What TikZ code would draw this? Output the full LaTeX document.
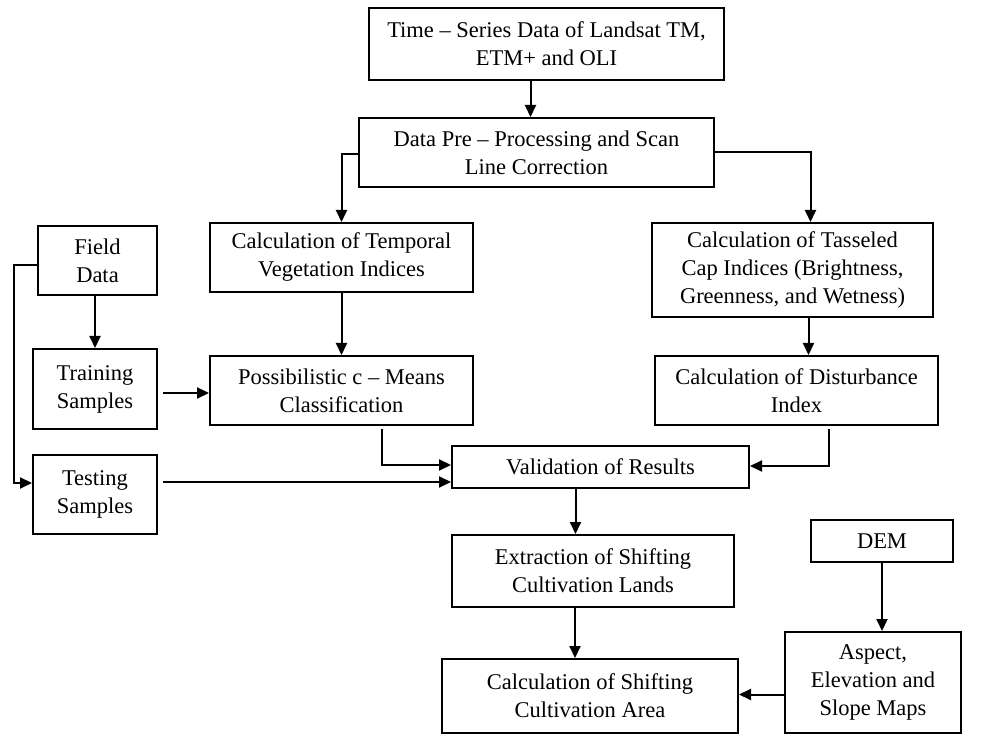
\documentclass[tikz,border=0pt]{standalone}
\usepackage{fontspec}
\setmainfont{Liberation Serif}
\usetikzlibrary{arrows.meta}

\begin{document}
\begin{tikzpicture}[x = 1pt, y = -1pt,
  box/.style = {draw, line width = 2pt, align = center, inner sep = 0pt,
    font = \fontsize{22.5}{28}\selectfont},
  arr/.style = {line width = 2pt, -{Triangle[length = 12pt, width = 11pt]}}]
\useasboundingbox (0, 0) rectangle (989, 735);
%\draw[very thin, color = gray](0, 0) grid[step = 50] (989, 735);
\node (series) at (546.5, 44) [box, minimum width = 355pt, minimum height = 72pt]
  {Time -- Series Data of Landsat TM,\\ETM+ and OLI};
\node (prep) at (536.5, 152.5) [box, minimum width = 355pt, minimum height = 69pt]
  {Data Pre -- Processing and Scan\\Line Correction};
\node (tvi) at (341.5, 257.5) [box, minimum width = 263pt, minimum height = 69pt]
  {Calculation of Temporal\\Vegetation Indices};
\node (tci) at (792.5, 270) [box, minimum width = 281pt, minimum height = 94pt]
  {Calculation of Tasseled\\Cap Indices (Brightness,\\Greenness, and Wetness)};
\node (field) at (97.5, 260.5) [box, minimum width = 119pt, minimum height = 69pt]
  {Field\\Data};
\node (train) at (95, 389) [box, minimum width = 124pt, minimum height = 80pt]
  {Training\\Samples};
\node (pcm) at (341.5, 390.5) [box, minimum width = 263pt, minimum height = 69pt]
  {Possibilistic c -- Means\\Classification};
\node (dist) at (796.5, 390.5) [box, minimum width = 283pt, minimum height = 69pt]
  {Calculation of Disturbance\\Index};
\node (test) at (95, 494.5) [box, minimum width = 124pt, minimum height = 79pt]
  {Testing\\Samples};
\node (valid) at (600.5, 467) [box, minimum width = 297pt, minimum height = 42pt]
  {Validation of Results};
\node (extr) at (593, 571) [box, minimum width = 282pt, minimum height = 72pt]
  {Extraction of Shifting\\Cultivation Lands};
\node (dem) at (882, 541) [box, minimum width = 142pt, minimum height = 42pt]
  {DEM};
\node (area) at (590, 696) [box, minimum width = 296pt, minimum height = 74pt]
  {Calculation of Shifting\\Cultivation Area};
\node (aspect) at (873, 682.5) [box, minimum width = 176pt, minimum height = 101pt]
  {Aspect,\\Elevation and\\Slope Maps};
% arrows
\draw[arr] ([xshift = -16pt]series.south) -- ([xshift = -16pt]series.south |- prep.north);
\draw[arr] ([yshift = -2pt]prep.west) -| (tvi.north);
\draw[arr] (prep.east) -| ([xshift = 18pt]tci.north);
\draw[arr] (tvi) -- (pcm);
\draw[arr] ([xshift = 16pt]tci.south) -- ([xshift = 16pt]tci.south |- dist.north);
\draw[arr] (field.south -| train.north) -- (train.north);
\draw[arr] ([xshift = 5pt, yshift = -4pt]train.east) -- ([yshift = -4pt]train.east -| pcm.west);
\draw[arr] ([yshift = -5pt]field.west) -- ++(-23, 0) |- ([yshift = 11.5pt]test.west);
\draw[arr] ([xshift = 5pt, yshift = 12.5pt]test.east) -- ([yshift = 12.5pt]test.east -| valid.west);
\draw[arr] ([xshift = 40pt, yshift = -3pt]pcm.south) |- ([yshift = 2pt]valid.west);
\draw[arr] ([xshift = 32pt, yshift = -3pt]dist.south) |- ([yshift = 1pt]valid.east);
\draw[arr] ([xshift = -25pt]valid.south) -- ([xshift = -25pt]valid.south |- extr.north);
\draw[arr] ([xshift = -18pt]extr.south) -- ([xshift = -18pt]extr.south |- area.north);
\draw[arr] (dem) -- (dem.south |- aspect.north);
\draw[arr] ([yshift = -12pt]aspect.west) -- ([yshift = -12pt]aspect.west -| area.east);
\end{tikzpicture}
\end{document}
